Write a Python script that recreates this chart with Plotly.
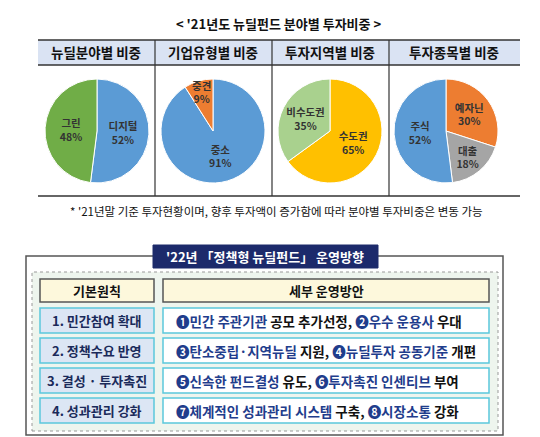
import plotly.graph_objects as go

W, H = 540, 437
titles = ["뉴딜분야별 비중", "기업유형별 비중", "투자지역별 비중", "투자종목별 비중"]
pie_labels = [["디지털", "그린"], ["중소", "중견"], ["수도권", "비수도권"], ["예자닌", "대출", "주식"]]
pie_values = [[52, 48], [91, 9], [65, 35], [30, 18, 52]]
pie_colors = [["#5b9bd5", "#70ad47"], ["#5b9bd5", "#ed7d31"], ["#ffc000", "#a9d18e"], ["#ed7d31", "#a5a5a5", "#5b9bd5"]]
principles = ["1. 민간참여 확대", "2. 정책수요 반영", "3. 결성 · 투자촉진", "4. 성과관리 강화"]
details = [
    [("❶민간 주관기관 ", "b"), ("공모 추가선정, ", "k"), ("❷우수 운용사 ", "b"), ("우대", "k")],
    [("❸탄소중립·지역뉴딜 ", "b"), ("지원, ", "k"), ("❹뉴딜투자 공동기준 ", "b"), ("개편", "k")],
    [("❺신속한 펀드결성 ", "b"), ("유도, ", "k"), ("❻투자촉진 인센티브 ", "b"), ("부여", "k")],
    [("❼체계적인 성과관리 시스템 ", "b"), ("구축, ", "k"), ("❽시장소통 ", "b"), ("강화", "k")],
]

def px(x): return x / W
def py(y): return 1 - y / H

fig = go.Figure()
centers = [89, 205, 322, 438]
R = 52
for i in range(4):
    cx = centers[i]
    fig.add_trace(go.Pie(
        labels=pie_labels[i], values=pie_values[i], sort=False, direction="clockwise", rotation=0,
        marker=dict(colors=pie_colors[i], line=dict(color="white", width=1)),
        texttemplate="<b>%{label}<br>%{value}%</b>", textinfo="text", textposition="inside",
        insidetextorientation="horizontal",
        textfont=dict(family="Noto Sans CJK KR", size=10.5, color="#333333"),
        domain=dict(x=[px(cx - R), px(cx + R)], y=[py(123 + R), py(123 - R)]),
        showlegend=False, hoverinfo="skip"))

shapes, ann = [], []
F = "Noto Sans CJK KR"
def rect(x0, y0, x1, y1, fill, line, lw=1, dash="solid"):
    shapes.append(dict(type="rect", xref="paper", yref="paper", x0=px(x0), x1=px(x1), y0=py(y1), y1=py(y0),
                       fillcolor=fill, line=dict(color=line, width=lw, dash=dash), layer="below"))
def line(x0, y0, x1, y1, c="#333", w=1.5):
    shapes.append(dict(type="line", xref="paper", yref="paper", x0=px(x0), x1=px(x1), y0=py(y0), y1=py(y1),
                       line=dict(color=c, width=w)))
def text(x, y, t, size=12, color="#111", anchor="center"):
    ann.append(dict(xref="paper", yref="paper", x=px(x), y=py(y), text=t, showarrow=False,
                    xanchor=anchor, yanchor="middle", font=dict(family=F, size=size, color=color)))

text(270, 15, "<b>< '21년도 뉴딜펀드 분야별 투자비중 ></b>", 13)
rect(30, 32, 512, 57, "#dae3f3", "rgba(0,0,0,0)", 0)
line(30, 32, 512, 32); line(30, 57, 512, 57); line(30, 188, 512, 188)
for x in [147, 264, 381]:
    line(x, 32, x, 188, "#333", 1.2)
for i, t in enumerate(titles):
    text([88, 205, 322, 446][i], 44.5, "<b>" + t + "</b>", 13.5)
text(268, 203, "* '21년말 기준 투자현황이며, 향후 투자액이 증가함에 따라 분야별 투자비중은 변동 가능", 11.5)

# bottom
rect(18, 248, 495, 427, "white", "#555", 1.5)
rect(24, 264, 490, 423, "#eef5ee", "#999", 1, "dot")
rect(145, 237, 370, 260, "#1c2a6b", "#1c2a6b")
text(257, 248.5, "<b>'22년 「정책형 뉴딜펀드」 운영방향</b>", 13, "white")
rect(32, 271, 146, 294, "#fdf8dc", "#555", 1.5)
rect(155, 271, 481, 294, "#fdf8dc", "#555", 1.5)
text(89, 282.5, "<b>기본원칙</b>", 13)
text(318, 282.5, "<b>세부 운영방안</b>", 13)
rows = [(300, 325), (330, 355), (360, 385), (390, 415)]
for i, (y0, y1) in enumerate(rows):
    rect(32, y0, 146, y1, "#dce6f4", "#5bc8dc", 1.5)
    rect(155, y0, 481, y1, "white", "#5bc8dc", 1.5)
    text(89, (y0 + y1) / 2, "<b>" + principles[i] + "</b>", 13, "#1a2a5a")
    s = "".join(f"<span style='color:{'#1f3d8c' if c == 'b' else '#111'}'>{t}</span>" for t, c in details[i])
    text(166, (y0 + y1) / 2, "<b>" + s + "</b>", 13.5, anchor="left")

fig.update_layout(width=W, height=H, margin=dict(l=0, r=0, t=0, b=0), paper_bgcolor="white",
                  plot_bgcolor="white", shapes=shapes, annotations=ann,
                  uniformtext=dict(minsize=10, mode="show"))
fig.write_html("out.html")
